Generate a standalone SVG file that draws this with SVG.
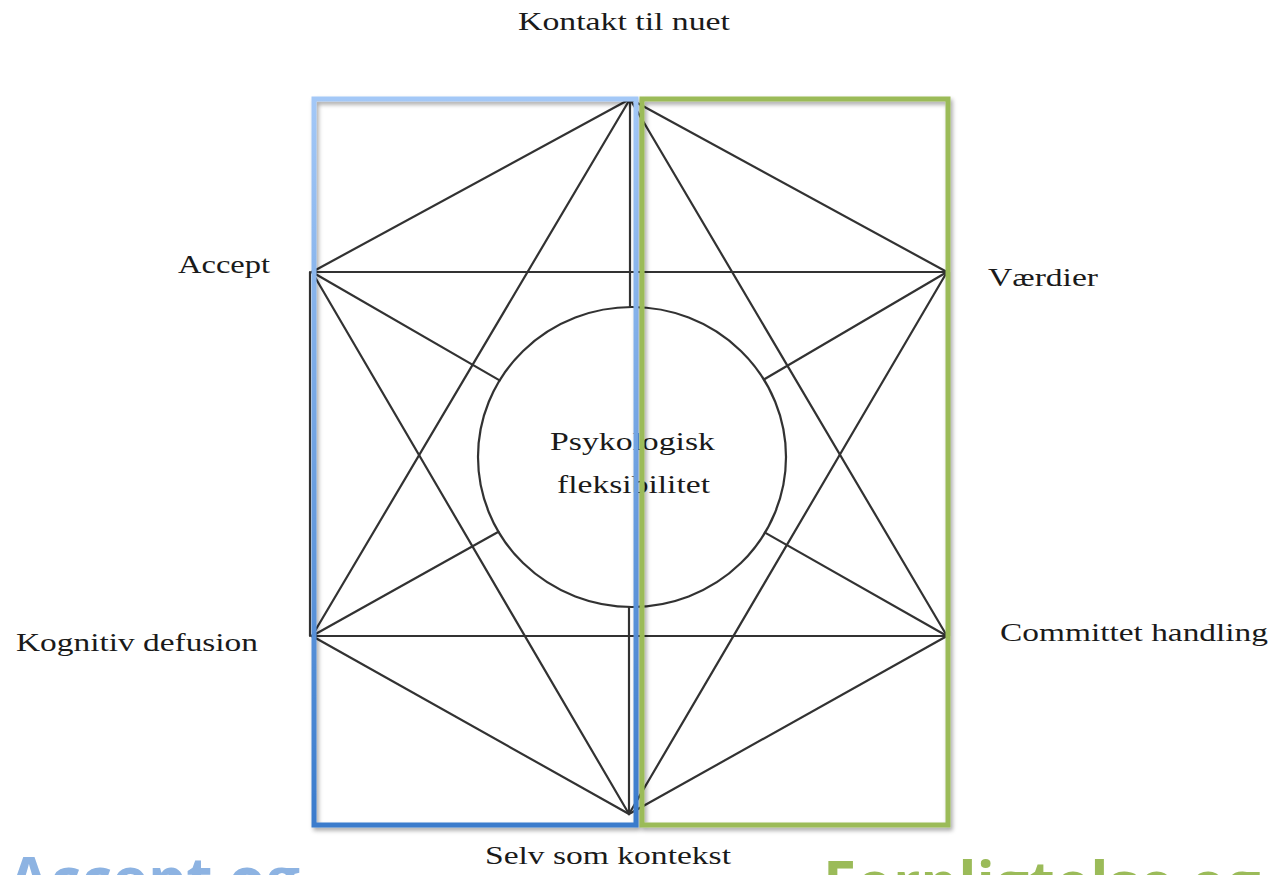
<svg xmlns="http://www.w3.org/2000/svg" width="1274" height="875" viewBox="0 0 1274 875">
  <style>
    .edge { stroke: #333333; stroke-width: 2.2; fill: none; stroke-linecap: round; }
    .lbl { font-family: "Liberation Serif", "Times New Roman", serif; font-size: 25px; fill: #1a1a1a; }
    .big { font-family: "Open Sans", "Liberation Sans", sans-serif; font-weight: bold; font-size: 60px; }
    .frame { fill: none; stroke-width: 5; }
  </style>
  <defs>
    <linearGradient id="blueFrame" gradientUnits="userSpaceOnUse" x1="0" y1="98" x2="0" y2="826">
      <stop offset="0" stop-color="#a3c8f7"/>
      <stop offset="1" stop-color="#3a7bcc"/>
    </linearGradient>
    <filter id="shadow" x="-5%" y="-5%" width="115%" height="115%">
      <feDropShadow dx="2" dy="3" stdDeviation="2" flood-color="#000" flood-opacity="0.35"/>
    </filter>
    <filter id="soft" x="-2%" y="-2%" width="104%" height="104%">
      <feGaussianBlur stdDeviation="0.6"/>
    </filter>
  </defs>

  <rect width="1274" height="875" fill="#ffffff"/>

  <!-- connectors of the hexagram -->
  <g id="connectors" filter="url(#soft)">
    <!-- outer hexagon sides -->
    <line class="edge" x1="630" y1="99" x2="312" y2="272"/>
    <line class="edge" x1="630" y1="99" x2="947" y2="272"/>
    <line class="edge" x1="310" y1="272" x2="310" y2="636"/>
    <line class="edge" x1="949" y1="272" x2="949" y2="636"/>
    <line class="edge" x1="312" y1="636" x2="629" y2="814"/>
    <line class="edge" x1="947" y1="636" x2="629" y2="814"/>
    <!-- downward triangle -->
    <line class="edge" x1="312" y1="272" x2="947" y2="272"/>
    <line class="edge" x1="312" y1="272" x2="629" y2="814"/>
    <line class="edge" x1="947" y1="272" x2="629" y2="814"/>
    <!-- upward triangle -->
    <line class="edge" x1="312" y1="636" x2="947" y2="636"/>
    <line class="edge" x1="630" y1="99" x2="312" y2="636"/>
    <line class="edge" x1="630" y1="99" x2="947" y2="636"/>
    <!-- spokes to the centre -->
    <line class="edge" x1="630" y1="99" x2="630" y2="307"/>
    <line class="edge" x1="629" y1="814" x2="629" y2="607"/>
    <line class="edge" x1="312" y1="272" x2="499.6" y2="380.4"/>
    <line class="edge" x1="312" y1="636" x2="498.5" y2="531.7"/>
    <line class="edge" x1="947" y1="272" x2="763.9" y2="379.5"/>
    <line class="edge" x1="947" y1="636" x2="765" y2="532.6"/>
  </g>

  <!-- centre node -->
  <g id="node-center">
    <ellipse class="edge" cx="632" cy="457" rx="154" ry="150" filter="url(#soft)"/>
    <text class="lbl" x="550" y="450" textLength="165" lengthAdjust="spacingAndGlyphs">Psykologisk</text>
    <text class="lbl" x="557" y="493" textLength="153" lengthAdjust="spacingAndGlyphs">fleksibilitet</text>
  </g>

  <g id="node-kontakt">
    <text class="lbl" x="518" y="30" textLength="212" lengthAdjust="spacingAndGlyphs">Kontakt til nuet</text>
  </g>
  <g id="node-accept">
    <text class="lbl" x="178" y="273" textLength="92" lengthAdjust="spacingAndGlyphs">Accept</text>
  </g>
  <g id="node-vaerdier">
    <text class="lbl" x="988" y="286" textLength="110" lengthAdjust="spacingAndGlyphs">Værdier</text>
  </g>
  <g id="node-defusion">
    <text class="lbl" x="16" y="651" textLength="242" lengthAdjust="spacingAndGlyphs">Kognitiv defusion</text>
  </g>
  <g id="node-handling">
    <text class="lbl" x="1000" y="641" textLength="268" lengthAdjust="spacingAndGlyphs">Committet handling</text>
  </g>
  <g id="node-selv">
    <text class="lbl" x="485" y="864" textLength="246" lengthAdjust="spacingAndGlyphs">Selv som kontekst</text>
  </g>

  <!-- grouping frames -->
  <g id="group-left">
    <rect class="frame" x="314" y="99" width="322" height="726" stroke="url(#blueFrame)" filter="url(#shadow)"/>
    <text class="big" x="8" y="901" fill="#8db3e2" textLength="292" lengthAdjust="spacingAndGlyphs">Accept og</text>
  </g>
  <g id="group-right">
    <rect class="frame" x="642" y="99" width="306" height="726" stroke="#9bbb59" filter="url(#shadow)"/>
    <text class="big" x="823" y="905" fill="#9bbb59">Forpligtelse og</text>
  </g>
</svg>
